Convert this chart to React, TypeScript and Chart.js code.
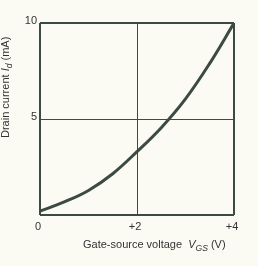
import React, { useEffect, useRef } from "react";
import { Chart, registerables } from "chart.js";

Chart.register(...registerables);

// Data (transfer curve)
const vgs = [0, 0.5, 1, 1.5, 2, 2.5, 3, 3.5, 4];
const drainCurrent = [0.2, 0.68, 1.28, 2.15, 3.3, 4.55, 6.05, 7.9, 10];
const xTickValues = [0, 2, 4];
const xTickLabels = ["0", "+2", "+4"];
const yTickValues = [0, 5, 10];
const yTickLabels = ["", "5", "10"];

const BG = "#fbfaf3";
const LINE = "#3b4a42";
const TEXT = "#333333";
const FONT = "'Liberation Sans', Arial, sans-serif";

type Run = { text: string; italic?: boolean; sub?: boolean };

function drawRuns(ctx: CanvasRenderingContext2D, runs: Run[], x: number, y: number, size: number) {
  let cx = x;
  for (const r of runs) {
    const fs = r.sub ? size * 0.78 : size;
    ctx.font = `${r.italic ? "italic " : ""}${fs}px ${FONT}`;
    ctx.fillText(r.text, cx, r.sub ? y + size * 0.3 : y);
    cx += ctx.measureText(r.text).width;
  }
}

const titlesPlugin = {
  id: "customTitles",
  afterDraw(chart: any) {
    const ctx = chart.ctx as CanvasRenderingContext2D;
    ctx.save();
    ctx.fillStyle = TEXT;
    ctx.textBaseline = "alphabetic";
    ctx.textAlign = "left";
    drawRuns(
      ctx,
      [
        { text: "Gate-source voltage  " },
        { text: "V", italic: true },
        { text: "GS", italic: true, sub: true },
        { text: " (V)" },
      ],
      83,
      248,
      11
    );
    ctx.translate(9, 138);
    ctx.rotate(-Math.PI / 2);
    drawRuns(
      ctx,
      [
        { text: "Drain current " },
        { text: "I", italic: true },
        { text: "d", italic: true, sub: true },
        { text: " (mA)" },
      ],
      0,
      0,
      11
    );
    ctx.restore();
  },
};

export default function App() {
  const ref = useRef<HTMLCanvasElement>(null);

  useEffect(() => {
    if (!ref.current) return;
    const chart = new Chart(ref.current, {
      type: "line",
      data: {
        datasets: [
          {
            data: vgs.map((x, i) => ({ x, y: drainCurrent[i] })),
            borderColor: LINE,
            borderWidth: 3,
            pointRadius: 0,
            tension: 0.4,
            fill: false,
          },
        ],
      },
      options: {
        animation: false,
        responsive: false,
        events: [],
        layout: { padding: { top: 23, right: 24, left: 0, bottom: 0 } },
        plugins: { legend: { display: false }, tooltip: { enabled: false } },
        scales: {
          x: {
            type: "linear",
            min: 0,
            max: 4,
            afterBuildTicks: (s: any) => {
              s.ticks = xTickValues.map((v) => ({ value: v }));
            },
            afterFit: (s: any) => {
              s.height = 51;
            },
            border: { display: false },
            grid: {
              color: LINE,
              lineWidth: (c: any) => (c.tick && c.tick.value === 2 ? 1 : 2),
              drawTicks: false,
            },
            ticks: {
              padding: 5,
              color: TEXT,
              labelOffset: -2,
              font: { family: FONT, size: 11 },
              maxRotation: 0,
              callback: (v: any) => xTickLabels[xTickValues.indexOf(Number(v))] ?? "",
            },
          },
          y: {
            type: "linear",
            min: 0,
            max: 10,
            afterBuildTicks: (s: any) => {
              s.ticks = yTickValues.map((v) => ({ value: v }));
            },
            afterFit: (s: any) => {
              s.width = 40;
            },
            border: { display: false },
            grid: {
              color: LINE,
              lineWidth: (c: any) => (c.tick && c.tick.value === 5 ? 1 : 2),
              drawTicks: false,
            },
            ticks: {
              padding: 3,
              color: TEXT,
              labelOffset: -2,
              font: { family: FONT, size: 11 },
              callback: (v: any) => yTickLabels[yTickValues.indexOf(Number(v))] ?? "",
            },
          },
        },
      },
      plugins: [titlesPlugin],
    } as any);
    return () => chart.destroy();
  }, []);

  return (
    <div style={{ position: "fixed", left: 0, top: 0, width: 258, height: 266, background: BG }}>
      <canvas ref={ref} width={258} height={266} style={{ display: "block" }} />
    </div>
  );
}
